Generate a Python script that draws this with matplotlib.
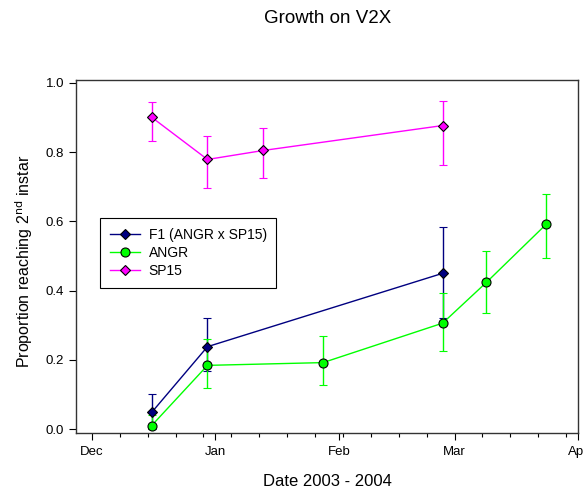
import matplotlib
matplotlib.use("Agg")
import matplotlib.pyplot as plt
import matplotlib.dates as mdates
from matplotlib.ticker import FixedLocator
from matplotlib.lines import Line2D
import datetime as dt

plt.rcParams['font.family'] = ['Liberation Sans', 'DejaVu Sans']

# F1 (ANGR x SP15)
f1_dates = ["2003-12-16", "2003-12-30", "2004-02-27"]
f1_mean = [0.048, 0.238, 0.450]
f1_low = [0.0, 0.168, 0.321]
f1_high = [0.100, 0.322, 0.584]

# ANGR
angr_dates = ["2003-12-16", "2003-12-30", "2004-01-28", "2004-02-27", "2004-03-09", "2004-03-24"]
angr_mean = [0.010, 0.184, 0.192, 0.306, 0.424, 0.592]
angr_low = [0.0, 0.120, 0.126, 0.226, 0.334, 0.495]
angr_high = [0.040, 0.261, 0.270, 0.392, 0.515, 0.679]

# SP15
sp15_dates = ["2003-12-16", "2003-12-30", "2004-01-13", "2004-02-27"]
sp15_mean = [0.901, 0.779, 0.805, 0.877]
sp15_low = [0.833, 0.696, 0.725, 0.763]
sp15_high = [0.946, 0.848, 0.871, 0.949]

y_ticks = [0.0, 0.2, 0.4, 0.6, 0.8, 1.0]

series = [
    ("F1 (ANGR x SP15)", f1_dates, f1_mean, f1_low, f1_high, "#000080", "D", 5.5),
    ("ANGR", angr_dates, angr_mean, angr_low, angr_high, "#00ff00", "o", 6.5),
    ("SP15", sp15_dates, sp15_mean, sp15_low, sp15_high, "#ff00ff", "D", 5.5),
]

fig = plt.figure(figsize=(5.84, 4.93), dpi=100)
ax = fig.add_axes([0.130, 0.1227, 0.860, 0.716])

handles = []
for label, dates, mean, low, high, color, marker, ms in series:
    x = [dt.datetime.strptime(d, "%Y-%m-%d") for d in dates]
    yerr = [[m - l for m, l in zip(mean, low)], [h - m for m, h in zip(mean, high)]]
    ax.errorbar(x, mean, yerr=yerr, color=color, lw=1.0, elinewidth=1.0,
                capsize=3, capthick=1.0, marker=marker, ms=ms,
                mfc=color, mec="black", mew=0.8, zorder=3)
    handles.append(Line2D([], [], color=color, lw=1.0, marker=marker, ms=ms,
                          mfc=color, mec="black", mew=0.8, label=label))

ax.set_xlim(dt.datetime(2003, 11, 27), dt.datetime(2004, 4, 1))
ax.set_ylim(-0.01, 1.01)
ax.set_yticks(y_ticks)
ax.set_yticklabels([f"{v:.1f}" for v in y_ticks])

# month labels with weekly minor ticks
ax.xaxis.set_major_locator(mdates.MonthLocator())
ax.xaxis.set_major_formatter(mdates.DateFormatter("%b"))
minor_days = []
d = dt.datetime(2003, 12, 1)
while d <= dt.datetime(2004, 4, 1):
    minor_days.append(mdates.date2num(d))
    d += dt.timedelta(days=7)
ax.xaxis.set_minor_locator(FixedLocator(minor_days))

ax.tick_params(axis="both", which="major", direction="out", length=5, width=0.8,
               labelsize=9.5, colors="black")
ax.tick_params(axis="x", which="minor", direction="out", length=3, width=0.8)
ax.tick_params(axis="x", which="major", pad=5)
for s in ax.spines.values():
    s.set_linewidth(1.0)
    s.set_color("#333333")

ax.set_xlabel("Date 2003 - 2004", fontsize=12, labelpad=11)
ax.set_ylabel("Proportion reaching 2$^{\\mathrm{nd}}$ instar", fontsize=11.5)
ax.yaxis.set_label_coords(-0.081, 0.484)

fig.text(0.561, 0.963, "Growth on V2X", ha="center", va="center", fontsize=13.5)

leg = ax.legend(handles=handles, loc="upper left", bbox_to_anchor=(0.048, 0.608),
                fontsize=10, frameon=True, fancybox=False, framealpha=1,
                edgecolor="black", handlelength=2.2, handletextpad=0.6,
                borderpad=0.7, labelspacing=0.3, borderaxespad=0)
leg.get_frame().set_linewidth(0.8)

fig.savefig("out.png", dpi=100)
